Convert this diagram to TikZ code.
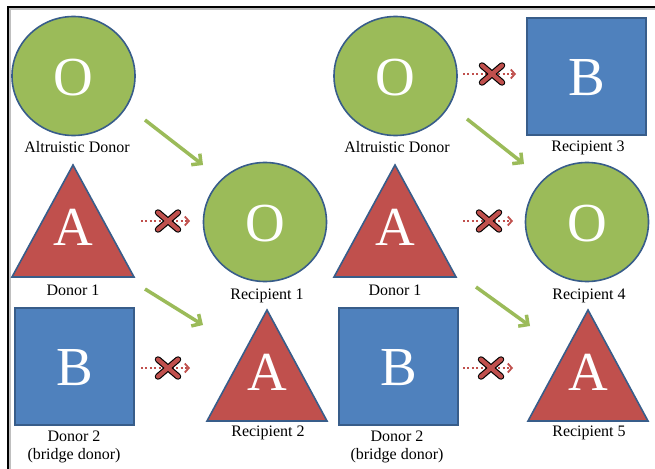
\documentclass[tikz,border=0pt]{standalone}
\usepackage{fontspec}
\setmainfont{Liberation Serif}
\usetikzlibrary{arrows.meta,shapes.geometric,calc}
\definecolor{ogreen}{HTML}{9BBB59}
\definecolor{oblue}{HTML}{4F81BD}
\definecolor{ored}{HTML}{C0504D}
\definecolor{oline}{HTML}{385D8A}
\tikzset{
  circshape/.style={ellipse,draw=oline,line width=1.6pt,fill=ogreen,minimum width=123pt,minimum height=119pt,inner sep=0pt},
  sqshape/.style={rectangle,draw=oline,line width=1.2pt,fill=oblue,minimum width=119pt,minimum height=117pt,inner sep=0pt},
  trishape/.style={draw=oline,line width=1.6pt,fill=ored,line join=miter},
  letter/.style={text=white,font=\fontsize{55}{55}\selectfont,inner sep=0pt},
  lbl/.style={font=\fontsize{16}{18}\selectfont,align=center,inner sep=0pt},
  okarrow/.style={draw=ogreen,line width=3.5pt,-{Straight Barb[length=7pt,width=14pt,line width=3.5pt]}},
  noarrow/.style={draw=ored,line width=2pt,dash pattern=on 2pt off 2.4pt,-{Straight Barb[length=4pt,width=9pt,line width=1.8pt]}},
  xblack/.style={draw=black,line width=6.5pt,line cap=round},
  xred/.style={draw=ored,line width=4.2pt,line cap=round}
}
\newcommand{\xmark}[1]{%
  \draw[xblack] ($(#1)+(-10,-8.5)$) -- ($(#1)+(10,8.5)$);
  \draw[xblack] ($(#1)+(-10,8.5)$) -- ($(#1)+(10,-8.5)$);
  \draw[xred] ($(#1)+(-10,-8.5)$) -- ($(#1)+(10,8.5)$);
  \draw[xred] ($(#1)+(-10,8.5)$) -- ($(#1)+(10,-8.5)$);}
\begin{document}
\begin{tikzpicture}[x=1pt,y=-1pt]
\useasboundingbox (0,0) rectangle (655,468);
\fill[white] (0,0) rectangle (655,468);
% frame
\draw[gray!50,line width=1.5pt] (10,470) -- (10,9) -- (657,9);
\draw[black,line width=1.5pt] (8,470) -- (8,7) -- (657,7);

% ---------- left panel ----------
\node[circshape] (ad1) at (73.5,76) {};
\node[letter] (ad1l) at (73.5,78) {O};
\node[lbl] (ad1t) at (77,147) {Altruistic Donor};

\draw[trishape] (12,277) -- (73,165) -- (134,277) -- cycle;
\node[letter] (d1l) at (73,227) {A};
\node[lbl] (d1t) at (73,290) {Donor 1};

\node[sqshape] (d2) at (74.5,366.5) {};
\node[letter] (d2l) at (74.5,368) {B};
\node[lbl] (d2t) at (74,447) {Donor 2\\(bridge donor)};

\node[circshape] (r1) at (265,222) {};
\node[letter] (r1l) at (265,224) {O};
\node[lbl] (r1t) at (267,296) {Recipient 1};

\draw[trishape] (207,421) -- (267,310) -- (327,421) -- cycle;
\node[letter] (r2l) at (267,372) {A};
\node[lbl] (r2t) at (268,433) {Recipient 2};

\coordinate (ga1s) at (145,120); \coordinate (ga1e) at (203,165);
\draw[okarrow] (ga1s) -- (ga1e);
\coordinate (ga2s) at (145,289); \coordinate (ga2e) at (203,325);
\draw[okarrow] (ga2s) -- (ga2e);

\coordinate (ra1s) at (141,221); \coordinate (ra1e) at (190,221);
\draw[noarrow] (ra1s) -- (ra1e);
\coordinate (x1) at (168,221); \xmark{x1}
\coordinate (ra2s) at (141,368); \coordinate (ra2e) at (190,368);
\draw[noarrow] (ra2s) -- (ra2e);
\coordinate (x2) at (168,368); \xmark{x2}

% ---------- right panel ----------
\node[circshape] (ad2) at (395.5,76) {};
\node[letter] (ad2l) at (395.5,78) {O};
\node[lbl] (ad2t) at (397,147) {Altruistic Donor};

\node[sqshape] (r3) at (586.5,76.5) {};
\node[letter] (r3l) at (586.5,78) {B};
\node[lbl] (r3t) at (588,148) {Recipient 3};

\draw[trishape] (334,277) -- (395,165) -- (456,277) -- cycle;
\node[letter] (d1bl) at (395,227) {A};
\node[lbl] (d1bt) at (395,290) {Donor 1};

\node[circshape] (r4) at (587,222) {};
\node[letter] (r4l) at (587,224) {O};
\node[lbl] (r4t) at (589,296) {Recipient 4};

\node[sqshape] (d2b) at (398.5,366.5) {};
\node[letter] (d2bl) at (398.5,368) {B};
\node[lbl] (d2bt) at (397,447) {Donor 2\\(bridge donor)};

\draw[trishape] (528,421) -- (588,310) -- (648,421) -- cycle;
\node[letter] (r5l) at (588,372) {A};
\node[lbl] (r5t) at (589,433) {Recipient 5};

\coordinate (ga3s) at (467,119); \coordinate (ga3e) at (524,164);
\draw[okarrow] (ga3s) -- (ga3e);
\coordinate (ga4s) at (476,287); \coordinate (ga4e) at (530,326);
\draw[okarrow] (ga4s) -- (ga4e);

\coordinate (ra3s) at (463,74); \coordinate (ra3e) at (516,74);
\draw[noarrow] (ra3s) -- (ra3e);
\coordinate (x3) at (492,74); \xmark{x3}
\coordinate (ra4s) at (463,221); \coordinate (ra4e) at (513,221);
\draw[noarrow] (ra4s) -- (ra4e);
\coordinate (x4) at (489,221); \xmark{x4}
\coordinate (ra5s) at (463,368); \coordinate (ra5e) at (513,368);
\draw[noarrow] (ra5s) -- (ra5e);
\coordinate (x5) at (491,368); \xmark{x5}
\end{tikzpicture}
\end{document}
